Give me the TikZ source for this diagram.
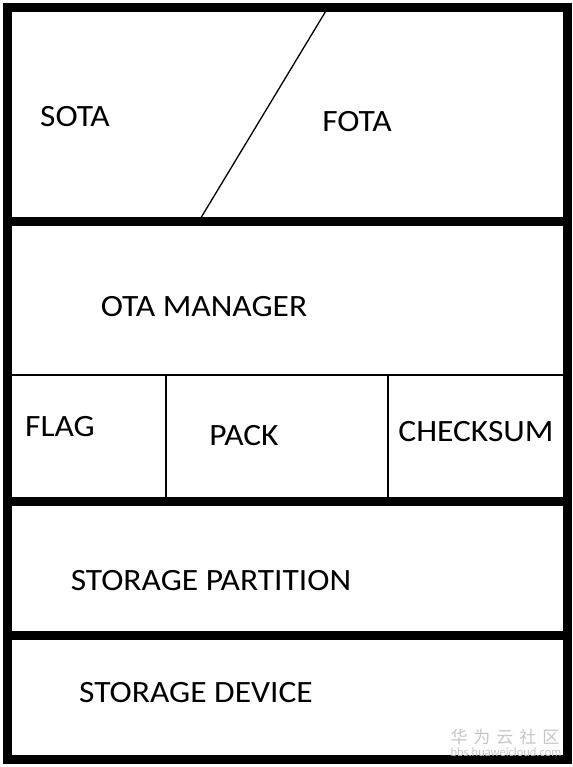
\documentclass[tikz,border=0pt]{standalone}
\usepackage{fontspec}
\setmainfont{Carlito}[FakeStretch=1.08]
\newfontfamily\cjk{Noto Sans CJK SC}
\newfontfamily\wmfont{Carlito}
\begin{document}
\begin{tikzpicture}[x=1pt,y=-1pt,
  thickline/.style={line width=9pt},
  thinline/.style={line width=1.5pt},
  lbl/.style={font=\fontsize{31}{36}\selectfont, inner sep=0pt, anchor=center}]
\useasboundingbox (0,0) rectangle (572,767);
\fill[white] (0,0) rectangle (572,767);
% inner thin lines
\draw[thinline] (7.5,375) -- (567,375);
\draw[thinline] (166,375) -- (166,501);
\draw[thinline] (388,375) -- (388,501);
\draw[line width=1.3pt] (328,7.5) -- (199,221);
% thick lines
\draw[thickline] (7.5,221) -- (567,221);
\draw[thickline] (7.5,501) -- (567,501);
\draw[thickline] (7.5,635) -- (567,635);
\draw[thickline] (7.5,7.5) rectangle (567,759.5);
% labels
\node[lbl] (sota) at (75,117) {SOTA};
\node[lbl] (fota) at (357,122) {FOTA};
\node[lbl] (otam) at (204,307) {OTA MANAGER};
\node[lbl] (flag) at (60,427) {FLAG};
\node[lbl] (pack) at (244,436) {PACK};
\node[lbl] (chk) at (476,432) {CHECKSUM};
\node[lbl] (spart) at (211,581) {STORAGE PARTITION};
\node[lbl] (sdev) at (196,693) {STORAGE DEVICE};
% watermark
\node[font=\cjk\fontsize{17}{20}\selectfont, text=gray!45, inner sep=0pt] (wm1) at (505,737) {华\hspace{6pt}为\hspace{6pt}云\hspace{6pt}社\hspace{6pt}区};
\node[font=\wmfont\fontsize{12.5}{14}\selectfont, text=gray!45, inner sep=0pt] (wm2) at (506,752) {bbs.huaweicloud.com};
\end{tikzpicture}
\end{document}
